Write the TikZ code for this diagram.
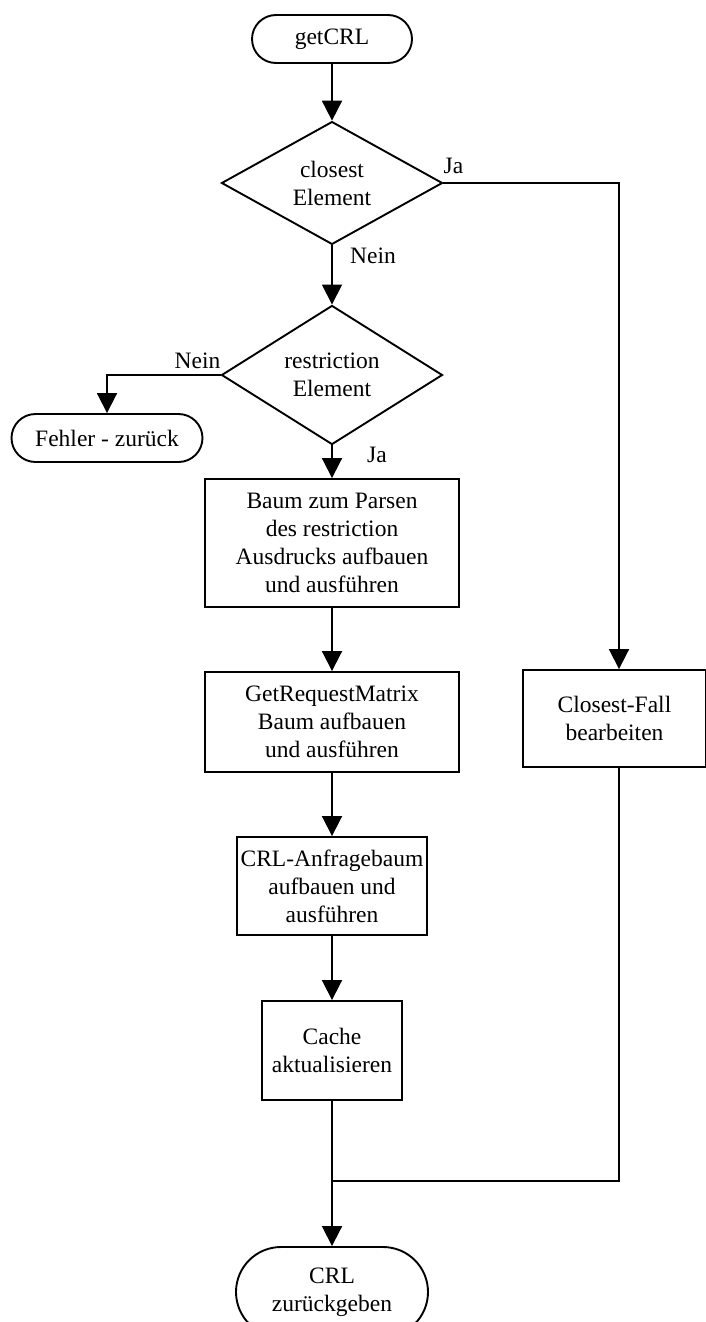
\documentclass[tikz,border=0pt]{standalone}
\usepackage{fontspec}
\setmainfont{Liberation Serif}
\usetikzlibrary{shapes.geometric,shapes.misc,arrows.meta}
\begin{document}
\begin{tikzpicture}[x=1pt,y=-1pt,
  every node/.style={font=\fontsize{23.5}{28}\selectfont, align=center},
  lw/.style={line width=1.9pt},
  terminal/.style={lw, draw, rounded rectangle, inner sep=0pt},
  decision/.style={lw, draw, diamond, inner sep=0pt, minimum width=221pt, minimum height=110pt},
  process/.style={lw, draw, rectangle, inner sep=1pt},
  flow/.style={lw, -{Triangle[length=20pt,width=20pt]}},
  tag/.style={inner sep=0pt}]
\clip (0,0) rectangle (706,1322);

% nodes
\node[terminal, minimum width=160pt, minimum height=48pt] (start) at (332,39) {getCRL};
\node[decision] (d1) at (332,183) {closest\\Element};
\node[decision] (d2) at (332,375) {restriction\\Element};
\node[terminal, minimum width=191pt, minimum height=48pt] (err) at (107,438) {Fehler - zur\"uck};
\node[process, minimum width=254pt, minimum height=128pt] (b1) at (332,543)
  {Baum zum Parsen\\des restriction\\Ausdrucks aufbauen\\und ausf\"uhren};
\node[process, minimum width=254pt, minimum height=100pt] (b2) at (332,722)
  {GetRequestMatrix\\Baum aufbauen\\und ausf\"uhren};
\node[process, minimum width=183pt, minimum height=97pt] (cf) at (614.5,718.5)
  {Closest-Fall\\bearbeiten};
\node[process, minimum width=190pt, minimum height=98pt] (b3) at (332,886)
  {CRL-Anfragebaum\\aufbauen und\\ausf\"uhren};
\node[process, minimum width=140pt, minimum height=99pt] (b4) at (332,1050.5)
  {Cache\\aktualisieren};
\node[terminal, minimum width=192pt, minimum height=90pt] (stop) at (332,1292)
  {CRL\\zur\"uckgeben};
\coordinate (merge) at (332,1181);

% connectors
\draw[flow] (start) -- (d1);
\draw[flow] (d1) -- (d2);
\draw[flow] (d1.east) -| ([xshift=4.5pt]cf.north);
\draw[flow] (d2.west) -| (err.north);
\draw[flow] (d2) -- (b1);
\draw[flow] (b1) -- (b2);
\draw[flow] (b2) -- (b3);
\draw[flow] (b3) -- (b4);
\draw[flow] (b4) -- (stop);
\draw[lw] ([xshift=4.5pt]cf.south) |- (merge);

% branch labels
\node[tag, anchor=base west, yshift=10pt] (ja1) at (d1.east) {Ja};
\node[tag, anchor=base west, xshift=18pt, yshift=-18pt] (nein1) at (d1.south) {Nein};
\node[tag, anchor=base east, yshift=7pt] (nein2) at (d2.west) {Nein};
\node[tag, anchor=base west, xshift=35pt, yshift=-17pt] (ja2) at (d2.south) {Ja};
\end{tikzpicture}
\end{document}
